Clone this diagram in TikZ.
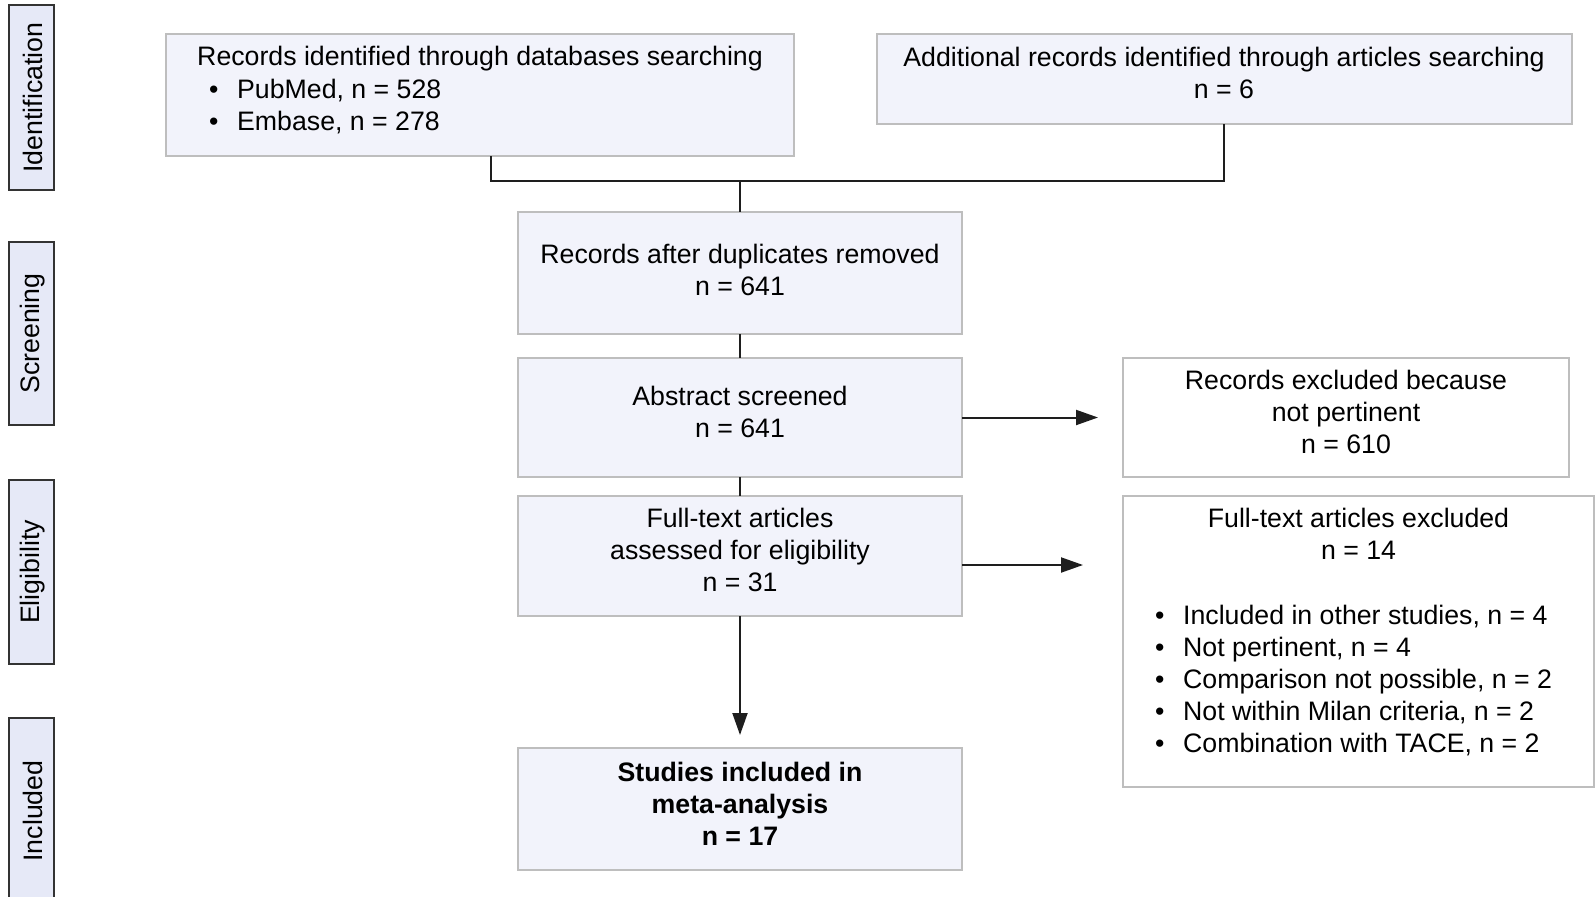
\documentclass[tikz,border=0pt]{standalone}
\usepackage{fontspec}
\setmainfont{Liberation Sans}
\usetikzlibrary{arrows.meta}
\definecolor{boxfill}{HTML}{F2F3FB}
\definecolor{labfill}{HTML}{E6E9F7}
\definecolor{boxline}{HTML}{BEBEBE}
\definecolor{labline}{HTML}{333333}
\definecolor{conline}{HTML}{1E1E1E}
\newcommand\mybul{\makebox[28pt][l]{\textbullet}}
\begin{document}
\begin{tikzpicture}[x=1pt,y=-1pt,
  font=\fontsize{26.7}{31.8}\selectfont,
  box/.style={draw=boxline, line width=2pt, fill=boxfill, inner sep=0pt, outer sep=0pt},
  wbox/.style={box, fill=white},
  stage/.style={draw=labline, line width=2.2pt, fill=labfill, inner sep=0pt, outer sep=0pt, minimum width=45pt},
  txt/.style={align=center, inner sep=0pt},
  ltxt/.style={align=left, inner sep=0pt, anchor=west},
  conn/.style={draw=conline, line width=2pt},
  arr/.style={conn, -{Triangle[length=22pt,width=15pt]}}]
\useasboundingbox (0,0) rectangle (1596,897);
\fill[white] (0,0) rectangle (1596,897);

% stage labels
\node[stage, minimum height=185pt] (sid) at (31.5,97.5) {};
\node[txt, rotate=90] (sidT) at ([xshift=1.5pt]sid.center) {Identification};
\node[stage, minimum height=183pt] (ssc) at (31.5,333.5) {};
\node[txt, rotate=90] (sscT) at ([xshift=1.5pt]ssc.center) {Screening};
\node[stage, minimum height=184pt] (sel) at (31.5,572) {};
\node[txt, rotate=90] (selT) at ([xshift=1.5pt]sel.center) {Eligibility};
\node[stage, minimum height=186pt] (sin) at (31.5,811) {};
\node[txt, rotate=90] (sinT) at ([xshift=1.5pt]sin.center) {Included};

% boxes
\node[box, minimum width=628pt, minimum height=122pt] (rec) at (480,95) {};
\node[box, minimum width=695pt, minimum height=90pt] (add) at (1224,79) {};
\node[box, minimum width=444pt, minimum height=122pt] (dup) at (740,273) {};
\node[box, minimum width=444pt, minimum height=119pt] (abs) at (740,417.5) {};
\node[wbox, minimum width=446pt, minimum height=119pt] (exc) at (1346,417.5) {};
\node[box, minimum width=444pt, minimum height=120pt] (full) at (740,556) {};
\node[wbox, minimum width=471pt, minimum height=291pt] (fex) at (1358.5,641.5) {};
\node[box, minimum width=444pt, minimum height=122pt] (inc) at (740,809) {};

% texts
\node[txt] (recT) at (480,59) {Records identified through databases searching};
\node[ltxt] (recL) at (209,106.5) {\mybul PubMed, n = 528\\\mybul Embase, n = 278};
\node[txt] (addT) at (1224,73) {Additional records identified through articles searching\\n = 6};
\node[txt] (dupT) at (740,270) {Records after duplicates removed\\n = 641};
\node[txt] (absT) at (740,412) {Abstract screened\\n = 641};
\node[txt] (excT) at (1346,412) {Records excluded because\\not pertinent\\n = 610};
\node[txt] (fullT) at (740,550) {Full-text articles\\assessed for eligibility\\n = 31};
\node[txt] (fexT) at (1358.5,534) {Full-text articles excluded\\n = 14};
\node[ltxt] (fexL) at (1155,680.5) {\mybul Included in other studies, n = 4\\\mybul Not pertinent, n = 4\\\mybul Comparison not possible, n = 2\\\mybul Not within Milan criteria, n = 2\\\mybul Combination with TACE, n = 2};
\node[txt, font=\fontsize{26.7}{31.8}\selectfont\bfseries] (incT) at (740,804) {Studies included in\\meta-analysis\\n = 17};

% connectors
\coordinate (j1) at (491,181);
\coordinate (j2) at (1224,181);
\coordinate (jm) at (740,181);
\coordinate (t1) at (1098,417.5);
\coordinate (t2) at (1083,565);
\coordinate (t3) at (740,735);
\draw[conn] (rec.south -| j1) |- (j2) -- (add.south);
\draw[conn] (jm) -- (dup.north);
\draw[conn] (dup.south) -- (abs.north);
\draw[conn] (abs.south) -- (full.north);
\draw[arr] (abs.east) -- (t1);
\draw[arr] (full.east |- t2) -- (t2);
\draw[arr] (full.south) -- (t3);
\end{tikzpicture}
\end{document}
